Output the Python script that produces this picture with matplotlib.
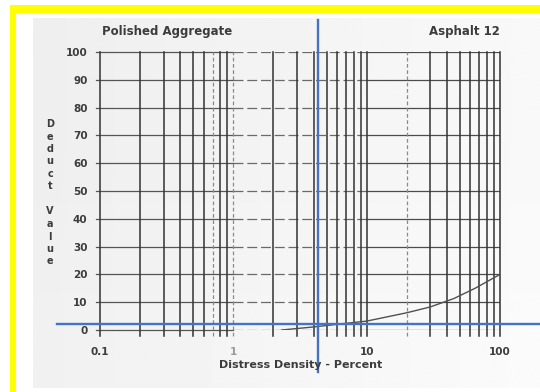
import numpy as np
import matplotlib
matplotlib.use("Agg")
import matplotlib.pyplot as plt
from matplotlib.patches import Rectangle
from matplotlib.transforms import blended_transform_factory

# Deduct value curve for polished aggregate (asphalt, chart 12)
density = [2.3, 4, 7, 10, 20, 30, 45, 65, 100]
deduct = [0.0, 1.1, 2.4, 3.2, 6.2, 8.3, 11.3, 15.0, 20.0]

# Example reading drawn as crosshair
reading_density = 4.3
reading_deduct = 2.2

x_ticks = [0.1, 1, 10, 100]
x_tick_labels = ["0.1", "1", "10", "100"]
y_ticks = list(range(0, 101, 10))

title_left = "Polished Aggregate"
title_right = "Asphalt 12"
x_label = "Distress Density - Percent"
y_label = "Deduct Value"

W, H = 540, 392
fig = plt.figure(figsize=(W / 100, H / 100), dpi=100)
fig.patch.set_facecolor("white")

def fx(px):
    return px / W

def fy(py):
    return 1 - py / H

# page background: scanned paper with a yellow frame
bg = fig.add_axes([0, 0, 1, 1], zorder=-5)
bg.set_xlim(0, W)
bg.set_ylim(H, 0)
bg.axis("off")
grad = np.linspace(0.935, 0.975, 256)[None, :]
grad = np.vstack([grad, grad + 0.008])
bg.imshow(grad, cmap="gray", vmin=0, vmax=1, extent=(33, W, 388, 18),
          aspect="auto", interpolation="bilinear")
bg.add_patch(Rectangle((10, 5), W - 10, 8, color="#ffff00", lw=0))
bg.add_patch(Rectangle((10, 5), 6, H - 5, color="#ffff00", lw=0))

ax = fig.add_axes([fx(100), fy(330), fx(500) - fx(100), fy(52) - fy(330)])
ax.set_facecolor("none")
ax.set_xscale("log")
ax.set_xlim(0.1, 100)
ax.set_ylim(0, 100)
for s in ax.spines.values():
    s.set_visible(False)

dark = "#323232"
text_c = "#3c3c3c"

# vertical log grid
faint = {0.7, 1.0, 20.0}
for dec in [0.1, 1, 10]:
    for m in range(1, 10):
        v = round(dec * m, 3)
        if v in faint:
            ax.plot([v, v], [-2, 100], color="#8a8a8a", lw=0.9,
                    ls=(0, (3, 2)), clip_on=False, zorder=2)
        else:
            ax.plot([v, v], [-2, 100], color=dark, lw=1.1,
                    clip_on=False, zorder=2)
ax.plot([100, 100], [-2, 100], color=dark, lw=1.1, clip_on=False, zorder=2)

# horizontal grid
for y in y_ticks:
    ax.plot([0.094, 1], [y, y], color="#555555", lw=0.9, clip_on=False, zorder=1)
    ax.plot([1, 10], [y, y], color="#6a6a6a", lw=0.9, ls=(0, (8, 3)), zorder=1)
    ax.plot([10, 100], [y, y], color="#4c4c4c", lw=0.9, zorder=1)

ax.plot(density, deduct, color="#505050", lw=1.0, zorder=3)

ax.set_xticks(x_ticks)
ax.set_xticklabels(x_tick_labels)
ax.xaxis.set_minor_locator(matplotlib.ticker.NullLocator())
ax.set_yticks(y_ticks)
ax.tick_params(axis="both", length=0, labelsize=7.5, labelcolor=text_c)
ax.tick_params(axis="x", pad=12)
ax.tick_params(axis="y", pad=9)
for lab in ax.get_xticklabels() + ax.get_yticklabels():
    lab.set_fontweight("bold")
ax.get_xticklabels()[1].set_color("#9a9a9a")

# crosshair reading
blue = "#4472c4"
tv = blended_transform_factory(ax.transData, fig.transFigure)
th = blended_transform_factory(fig.transFigure, ax.transData)
ax.plot([reading_density, reading_density], [fy(20), fy(372)], color=blue,
        lw=1.7, transform=tv, clip_on=False, zorder=5)
ax.plot([fx(57), 1.0], [reading_deduct, reading_deduct], color=blue,
        lw=1.7, transform=th, clip_on=False, zorder=5)

fig.text(fx(102), fy(32), title_left, ha="left", va="center",
         fontsize=8.5, fontweight="bold", color=text_c)
fig.text(fx(500), fy(32), title_right, ha="right", va="center",
         fontsize=8.5, fontweight="bold", color=text_c)
fig.text(fx(301), fy(365), x_label, ha="center", va="center",
         fontsize=8, fontweight="bold", color=text_c)

# stacked vertical axis label
for i, ch in enumerate(y_label):
    if ch == " ":
        continue
    fig.text(fx(50), fy(124 + 12.5 * i), ch, ha="center", va="center",
             fontsize=7, fontweight="bold", color=text_c)

fig.savefig("out.png", dpi=100)
